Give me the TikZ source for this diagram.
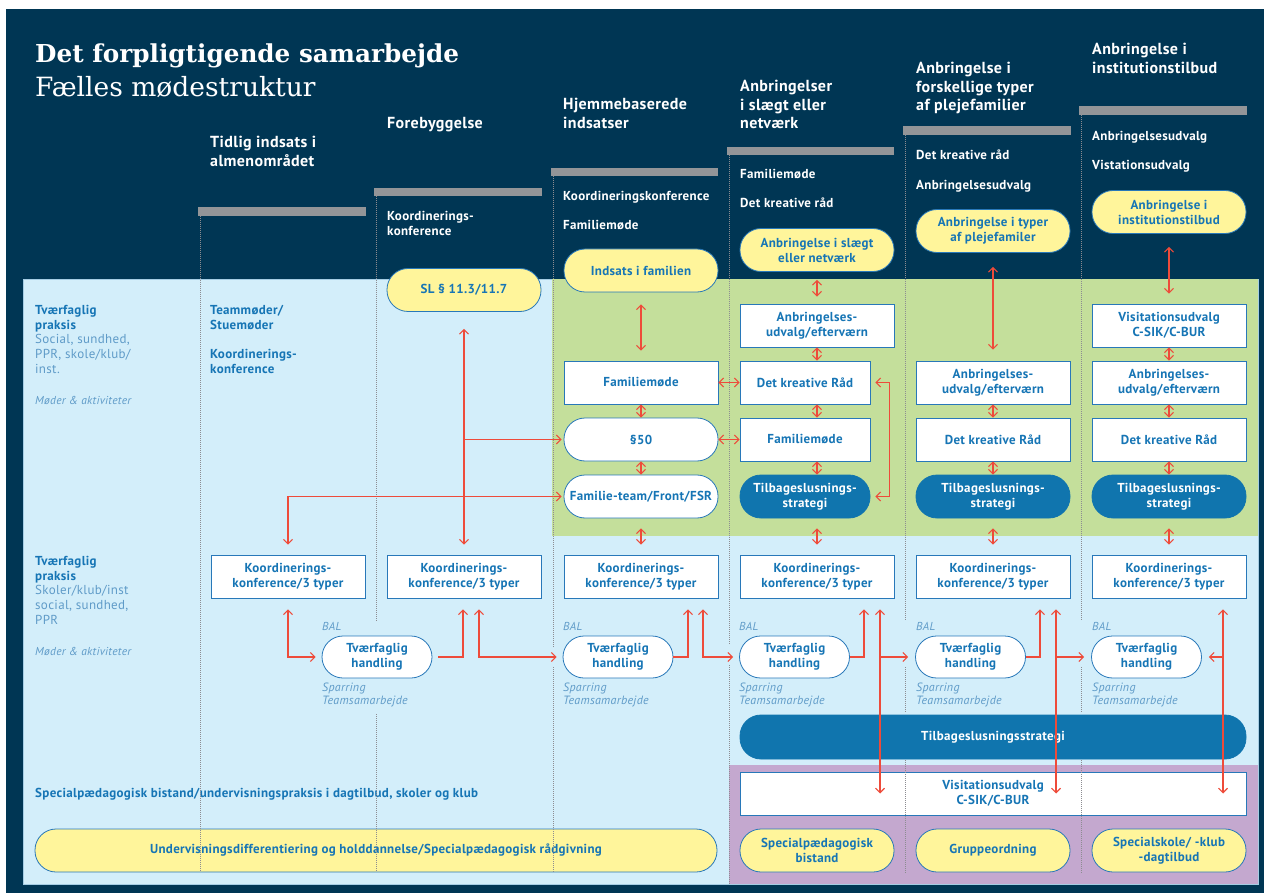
\documentclass[tikz,border=0pt]{standalone}
\usepackage{fontspec}
\setmainfont{PT Sans}[LetterSpace=2.5]
\newfontfamily\slabfont{DejaVu Serif}
\usetikzlibrary{arrows.meta,calc}
\definecolor{navy}{RGB}{0,54,84}
\definecolor{paleblue}{RGB}{211,238,250}
\definecolor{paneledge}{RGB}{165,205,228}
\definecolor{palegreen}{RGB}{196,223,155}
\definecolor{palepurple}{RGB}{196,168,207}
\definecolor{paleyellow}{RGB}{255,245,155}
\definecolor{txtblue}{RGB}{22,117,181}
\definecolor{lightxt}{RGB}{95,155,200}
\definecolor{pillblue}{RGB}{16,117,174}
\definecolor{barGray}{RGB}{147,149,152}
\definecolor{dotgray}{RGB}{140,140,145}
\definecolor{arrred}{RGB}{238,75,58}
\definecolor{edgeblue}{RGB}{40,120,185}
\tikzset{
 nbase/.style={inner sep=0pt, align=center, font=\fontsize{13}{15}\selectfont\bfseries, text=txtblue},
 box/.style={nbase, draw=edgeblue, line width=0.8pt, fill=white, minimum width=154pt, minimum height=43pt},
 wpill/.style={box, rounded corners=21pt},
 ypill/.style={box, fill=paleyellow, rounded corners=21pt},
 bpill/.style={box, fill=pillblue, draw=pillblue, text=white, rounded corners=21pt},
 head/.style={inner sep=0pt, anchor=north west, align=left, text=white, font=\fontsize{16}{18.6}\selectfont\bfseries},
 sub/.style={inner sep=0pt, anchor=base west, text=white, font=\fontsize{13}{15}\selectfont\bfseries},
 subml/.style={inner sep=0pt, anchor=north west, align=left, text=white, font=\fontsize{13}{15}\selectfont\bfseries},
 lab/.style={inner sep=0pt, anchor=north west, align=left, text=txtblue, font=\fontsize{13}{14.7}\selectfont\bfseries},
 note/.style={inner sep=0pt, anchor=base west, align=left, text=lightxt, font=\fontsize{11.5}{13}\selectfont\itshape},
 notem/.style={inner sep=0pt, anchor=north west, align=left, text=lightxt, font=\fontsize{12}{13}\selectfont\itshape},
 arr/.style={draw=arrred, line width=1.1pt, >={Straight Barb[length=4.5pt,width=9pt]}},
 dots/.style={draw=dotgray, line width=1pt, dash pattern=on 1pt off 1pt},
}
\begin{document}
\begin{tikzpicture}[x=1pt,y=-1pt]
\useasboundingbox (0,0) rectangle (1264,893);
% backgrounds
\fill[white] (0,0) rectangle (1264,893);
\fill[navy] (6,9) rectangle (1264,893);
\filldraw[fill=paleblue, draw=paneledge, line width=0.6pt] (23,279) rectangle (1258,884);
\fill[palegreen] (552,279) rectangle (1258,536);
\fill[palepurple] (729,765) rectangle (1258,884);
% header bars
\fill[barGray] (198,207) rectangle (366,216);
\fill[barGray] (374,188) rectangle (542,196);
\fill[barGray] (551,168) rectangle (718,176);
\fill[barGray] (727,147) rectangle (894,155);
\fill[barGray] (903,126) rectangle (1071,135);
\fill[barGray] (1079,106) rectangle (1247,115);
% title
\node[inner sep=0pt, anchor=base west, text=white, font=\slabfont\bfseries\fontsize{24.7}{28}\selectfont] (title) at (35,63) {Det forpligtigende samarbejde};
\node[inner sep=0pt, anchor=base west, text=white, font=\slabfont\fontsize{26.5}{30}\selectfont] (subtitle) at (35,97) {Fælles mødestruktur};
% column headers
\node[head] (h1) at (210,136) {Tidlig indsats i\\almenområdet};
\node[head] (h2) at (387,117) {Forebyggelse};
\node[head] (h3) at (563,98) {Hjemmebaserede\\indsatser};
\node[head] (h4) at (740,80) {Anbringelser\\i slægt eller\\netværk};
\node[head] (h5) at (916,62) {Anbringelse i\\forskellige typer\\af plejefamilier};
\node[head] (h6) at (1092,43) {Anbringelse i\\institutionstilbud};
% sub items
\node[subml] (s2a) at (387,211) {Koordinerings-\\konference};
\node[sub] (s3a) at (563,201) {Koordineringskonference};
\node[sub] (s3b) at (563,230) {Familiemøde};
\node[sub] (s4a) at (740,179) {Familiemøde};
\node[sub] (s4b) at (740,208) {Det kreative råd};
\node[sub] (s5a) at (916,160) {Det kreative råd};
\node[sub] (s5b) at (916,190) {Anbringelsesudvalg};
\node[sub] (s6a) at (1092,141) {Anbringelsesudvalg};
\node[sub] (s6b) at (1092,170) {Vistationsudvalg};
% header pills
\node[ypill] (SL) at (464,290) {SL § 11.3/11.7};
\node[ypill] (IF) at (641,270.5) {Indsats i familien};
\node[ypill] (SN) at (817,250) {Anbringelse i slægt\\eller netværk};
\node[ypill] (TP) at (993,231) {Anbringelse i typer\\af plejefamiler};
\node[ypill] (IT) at (1169,212) {Anbringelse i\\institutionstilbud};
% left labels
\node[lab] (tp1) at (35,305) {Tværfaglig\\praksis\\{\mdseries\color{lightxt}Social, sundhed,}\\{\mdseries\color{lightxt}PPR, skole/klub/}\\{\mdseries\color{lightxt}inst.}};
\node[note] (ma1) at (35,404) {Møder \& aktiviteter};
\node[lab] (tp2) at (35,556) {Tværfaglig\\praksis\\{\mdseries\color{lightxt}Skoler/klub/inst}\\{\mdseries\color{lightxt}social, sundhed,}\\{\mdseries\color{lightxt}PPR}};
\node[note] (ma2) at (35,655) {Møder \& aktiviteter};
\node[lab] (c1a) at (210,305) {Teammøder/\\Stuemøder};
\node[lab] (c1b) at (210,349) {Koordinerings-\\konference};
\node[inner sep=0pt, anchor=base west, text=txtblue, font=\fontsize{13}{15}\selectfont\bfseries] (spt) at (35,797) {Specialpædagogisk bistand/undervisningspraksis i dagtilbud, skoler og klub};
% column 3 nodes
\node[box] (FM3) at (641,382.5) {Familiemøde};
\node[wpill] (P50) at (641,439.5) {§50};
\node[wpill] (FT) at (641,496.5) {Familie-team/Front/FSR};
% column 4 nodes
\node[box] (AU4) at (817,325.5) {Anbringelses-\\udvalg/efterværn};
\node[box, minimum width=130pt] (DKR4) at (805,382.5) {Det kreative Råd};
\node[box, minimum width=130pt] (FM4) at (805,439.5) {Familiemøde};
\node[bpill, minimum width=130pt] (TS4) at (805,496.5) {Tilbageslusnings-\\strategi};
% column 5 nodes
\node[box] (AU5) at (993,382.5) {Anbringelses-\\udvalg/efterværn};
\node[box] (DKR5) at (993,439.5) {Det kreative Råd};
\node[bpill] (TS5) at (993,496.5) {Tilbageslusnings-\\strategi};
% column 6 nodes
\node[box] (VU6) at (1169,325.5) {Visitationsudvalg\\C-SIK/C-BUR};
\node[box] (AU6) at (1169,382.5) {Anbringelses-\\udvalg/efterværn};
\node[box] (DKR6) at (1169,439.5) {Det kreative Råd};
\node[bpill] (TS6) at (1169,496.5) {Tilbageslusnings-\\strategi};
% koordineringskonference row
\node[box] (KK1) at (288,576.5) {Koordinerings-\\konference/3 typer};
\node[box] (KK2) at (464,576.5) {Koordinerings-\\konference/3 typer};
\node[box] (KK3) at (641,576.5) {Koordinerings-\\konference/3 typer};
\node[box] (KK4) at (817,576.5) {Koordinerings-\\konference/3 typer};
\node[box] (KK5) at (993,576.5) {Koordinerings-\\konference/3 typer};
\node[box] (KK6) at (1169,576.5) {Koordinerings-\\konference/3 typer};
% tvaerfaglig handling row
\node[wpill, minimum width=110pt, minimum height=42pt] (th1) at (377,657) {Tværfaglig\\handling};
\node[wpill, minimum width=110pt, minimum height=42pt] (th3) at (618,657) {Tværfaglig\\handling};
\node[wpill, minimum width=110pt, minimum height=42pt] (th4) at (794.5,657) {Tværfaglig\\handling};
\node[wpill, minimum width=110pt, minimum height=42pt] (th5) at (970.5,657) {Tværfaglig\\handling};
\node[wpill, minimum width=110pt, minimum height=42pt] (th6) at (1146.5,657) {Tværfaglig\\handling};
\foreach \n/\x in {b1/322,b3/563,b4/739,b5/916,b6/1092}{
  \node[note] (bal\n) at (\x,630) {BAL};
  \node[notem] (sp\n) at (\x,683) {Sparring\\Teamsamarbejde};
}
% bottom
\node[bpill, minimum width=506pt, minimum height=44pt] (TSB) at (993,737) {Tilbageslusningsstrategi};
\node[box, minimum width=506pt] (VIS) at (993,793.5) {Visitationsudvalg\\C-SIK/C-BUR};
\node[ypill, minimum width=682pt] (UD) at (376,850.5) {Undervisningsdifferentiering og holddannelse/Specialpædagogisk rådgivning};
\node[ypill] (SB) at (817,850.5) {Specialpædagogisk\\bistand};
\node[ypill] (GO) at (993,850.5) {Gruppeordning};
\node[ypill] (SS) at (1169,850.5) {Specialskole/ -klub\\-dagtilbud};
% dotted column lines
\draw[dots] (200,216) -- (200,872);
\draw[dots] (376,196) -- (376,621) (376,714) -- (376,872);
\draw[dots] (553,176) -- (553,647) (553,667) -- (553,872);
\draw[dots] (729,155) -- (729,645) (729,665) -- (729,884);
\draw[dots] (905,135) -- (905,620) (905,667) -- (905,713) (905,760) -- (905,873);
\draw[dots] (1081,115) -- (1081,620) (1081,667) -- (1081,713) (1081,760) -- (1081,873);
% arrows upper
\draw[arr,<->, shorten <=17pt, shorten >=10pt] (SL.south) -- (KK2.north);
\draw[arr,->, shorten >=2pt] (SL.south |- P50.west) -- (P50.west);
\draw[arr,<->, shorten <=10pt, shorten >=2pt] (KK1.north) |- (FT.west);
\draw[arr,<->, shorten <=12pt, shorten >=10pt] (IF.south) -- (FM3.north);
\draw[arr,<->] (FM3.south) -- (P50.north);
\draw[arr,<->] (P50.south) -- (FT.north);
\draw[arr,<->, shorten <=10pt, shorten >=10pt] (FT.south) -- (KK3.north);
\draw[arr,<->] (FM3.east) -- (DKR4.west);
\draw[arr,<->] (P50.east) -- (FM4.west);
\draw[arr,<->, shorten <=8pt, shorten >=7pt] (SN.south) -- (AU4.north);
\draw[arr,<->] (AU4.south) -- (AU4.south |- DKR4.north);
\draw[arr,<->] (DKR4.south -| AU4.south) -- (FM4.north -| AU4.south);
\draw[arr,<->] (FM4.south -| AU4.south) -- (TS4.north -| AU4.south);
\draw[arr,<->, shorten <=10pt, shorten >=10pt] (TS4.south -| KK4.north) -- (KK4.north);
\draw[arr,<->, shorten <=5pt, shorten >=5pt] (DKR4.east) -- ++(19,0) |- (TS4.east);
\draw[arr,<->, shorten <=14pt, shorten >=11pt] (TP.south) -- (AU5.north);
\draw[arr,<->] (AU5.south) -- (DKR5.north);
\draw[arr,<->] (DKR5.south) -- (TS5.north);
\draw[arr,<->, shorten <=10pt, shorten >=10pt] (TS5.south) -- (KK5.north);
\draw[arr,<->, shorten <=13pt, shorten >=10pt] (IT.south) -- (VU6.north);
\draw[arr,<->] (VU6.south) -- (AU6.north);
\draw[arr,<->] (AU6.south) -- (DKR6.north);
\draw[arr,<->] (DKR6.south) -- (TS6.north);
\draw[arr,<->, shorten <=10pt, shorten >=10pt] (TS6.south) -- (KK6.north);
% arrows lower
\draw[arr,<->, shorten <=11pt, shorten >=6pt] (KK1.south) |- (th1.west);
\draw[arr,->, shorten <=6pt, shorten >=11pt] (th1.east) -| ([xshift=-1pt]KK2.south);
\draw[arr,<->, shorten <=11pt, shorten >=6pt] ([xshift=15pt]KK2.south) |- (th3.west);
\draw[arr,->, shorten >=11pt] (th3.east) -| ([xshift=47pt]KK3.south);
\draw[arr,<->, shorten <=11pt, shorten >=6pt] ([xshift=62pt]KK3.south) |- (th4.west);
\draw[arr,->, shorten >=11pt] (th4.east) -| ([xshift=47pt]KK4.south);
\draw[arr,<->, shorten <=11pt] ([xshift=63pt]KK4.south) -- ([xshift=63pt]KK4.south |- VIS.center);
\draw[arr,->, shorten >=7pt] ([xshift=63pt]KK4.south |- th5.west) -- (th5.west);
\draw[arr,->, shorten >=11pt] (th5.east) -| ([xshift=47pt]KK5.south);
\draw[arr,<->, shorten <=11pt] ([xshift=63pt]KK5.south) -- ([xshift=63pt]KK5.south |- VIS.center);
\draw[arr,->, shorten >=7pt] ([xshift=63pt]KK5.south |- th6.west) -- (th6.west);
\draw[arr,<->, shorten <=11pt] ([xshift=54pt]KK6.south) -- ([xshift=54pt]KK6.south |- VIS.center);
\draw[arr,->, shorten >=7pt] ([xshift=54pt]KK6.south |- th6.east) -- (th6.east);
\end{tikzpicture}
\end{document}
